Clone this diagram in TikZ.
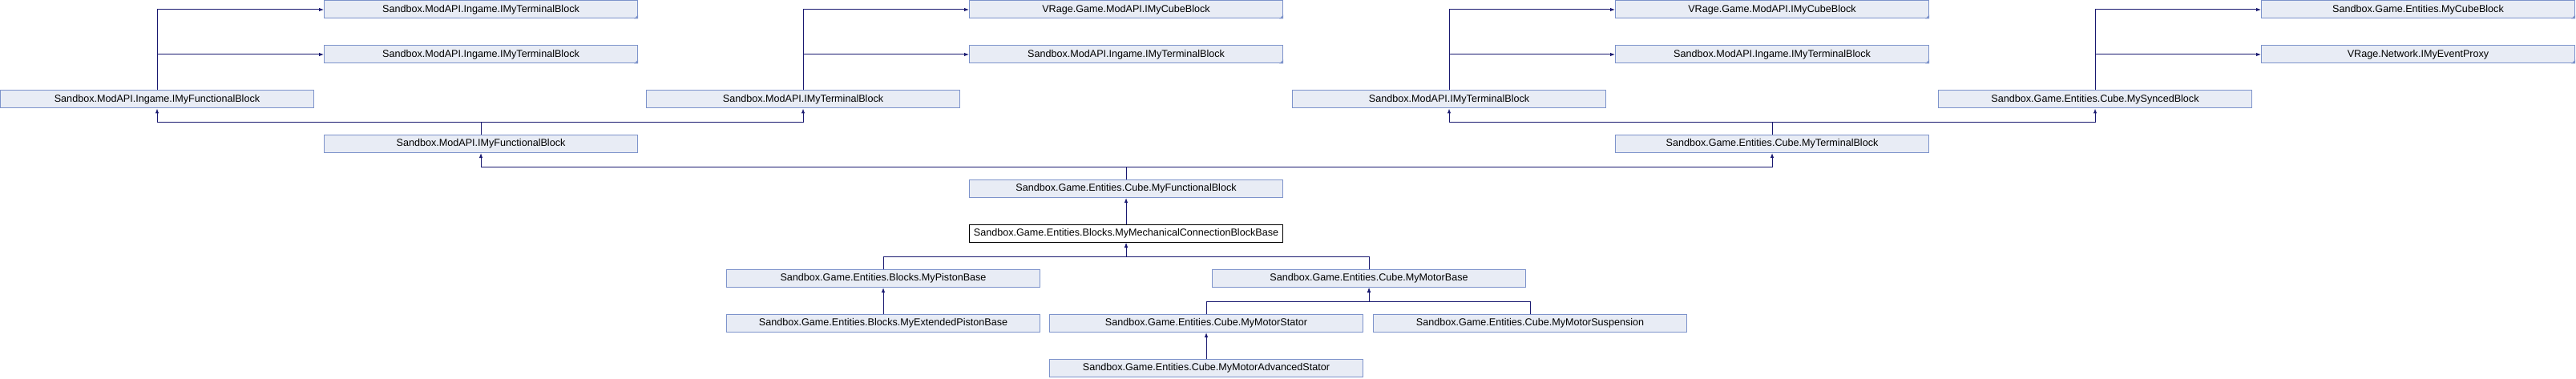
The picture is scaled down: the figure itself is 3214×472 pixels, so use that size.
\documentclass[tikz,border=0pt]{standalone}
\usepackage{fontspec}
\setmainfont{Liberation Sans}
\usetikzlibrary{arrows.meta}

\definecolor{boxfill}{HTML}{E8ECF5}
\definecolor{boxline}{HTML}{7D93CB}
\definecolor{edgecol}{HTML}{191970}

\tikzset{
  cls/.style={draw=boxline, fill=boxfill, line width=1pt, rectangle,
    minimum width=391pt, minimum height=22pt, inner sep=0pt,
    font=\fontsize{12.6}{15}\selectfont},
  mainclass/.style={cls, draw=black, fill=white},
  edge/.style={draw=edgecol, line width=1pt, -{Latex[length=6pt,width=4.5pt]}},
  cut/.style={fill=boxline}
}

\begin{document}
\begin{tikzpicture}[x=1pt, y=1pt]
            \useasboundingbox (0,0) rectangle (3214,472);

            % Top rows (truncated bases)
            \node[cls] (ingTerm1) at (600,460) {Sandbox.ModAPI.Ingame.IMyTerminalBlock};
            \node[cls] (ingTerm2) at (600,404) {Sandbox.ModAPI.Ingame.IMyTerminalBlock};
            \node[cls] (cubeIf1) at (1405,460) {VRage.Game.ModAPI.IMyCubeBlock};
            \node[cls] (ingTerm3) at (1405,404) {Sandbox.ModAPI.Ingame.IMyTerminalBlock};
            \node[cls] (cubeIf2) at (2211,460) {VRage.Game.ModAPI.IMyCubeBlock};
            \node[cls] (ingTerm4) at (2211,404) {Sandbox.ModAPI.Ingame.IMyTerminalBlock};
            \node[cls] (myCube) at (3017,460) {Sandbox.Game.Entities.MyCubeBlock};
            \node[cls] (eventProxy) at (3017,404) {VRage.Network.IMyEventProxy};

            % Interfaces
            \node[cls] (ingFunc) at (196,348) {Sandbox.ModAPI.Ingame.IMyFunctionalBlock};
            \node[cls] (modTerm1) at (1002,348) {Sandbox.ModAPI.IMyTerminalBlock};
            \node[cls] (modTerm2) at (1808,348) {Sandbox.ModAPI.IMyTerminalBlock};
            \node[cls] (synced) at (2614,348) {Sandbox.Game.Entities.Cube.MySyncedBlock};
            \node[cls] (modFunc) at (600,292.5) {Sandbox.ModAPI.IMyFunctionalBlock};
            \node[cls] (terminal) at (2211,292.5) {Sandbox.Game.Entities.Cube.MyTerminalBlock};

            % Main chain
            \node[cls] (functional) at (1405,236.5) {Sandbox.Game.Entities.Cube.MyFunctionalBlock};
            \node[mainclass] (mechBase) at (1405,180.5) {Sandbox.Game.Entities.Blocks.MyMechanicalConnectionBlockBase};
            \node[cls] (piston) at (1102,124.5) {Sandbox.Game.Entities.Blocks.MyPistonBase};
            \node[cls] (motor) at (1708,124.5) {Sandbox.Game.Entities.Cube.MyMotorBase};
            \node[cls] (extPiston) at (1102,68.5) {Sandbox.Game.Entities.Blocks.MyExtendedPistonBase};
            \node[cls] (stator) at (1505,68.5) {Sandbox.Game.Entities.Cube.MyMotorStator};
            \node[cls] (suspension) at (1909,68.5) {Sandbox.Game.Entities.Cube.MyMotorSuspension};
            \node[cls] (advStator) at (1505,12.5) {Sandbox.Game.Entities.Cube.MyMotorAdvancedStator};

            % Corner marks on truncated nodes
            \foreach \n in {ingTerm1,ingTerm2,cubeIf1,ingTerm3,cubeIf2,ingTerm4,myCube,eventProxy}
              \fill[cut] (\n.south east) -- ++(-5,0) -- ++(5,5) -- cycle;

            % Inheritance edges
            \draw[edge] (ingFunc.north) |- (ingTerm1.west);
            \draw[edge] (ingFunc.north) |- (ingTerm2.west);
            \draw[edge] (modTerm1.north) |- (cubeIf1.west);
            \draw[edge] (modTerm1.north) |- (ingTerm3.west);
            \draw[edge] (modTerm2.north) |- (cubeIf2.west);
            \draw[edge] (modTerm2.north) |- (ingTerm4.west);
            \draw[edge] (synced.north) |- (myCube.west);
            \draw[edge] (synced.north) |- (eventProxy.west);

            \draw[edge] (modFunc.north) -- ++(0,15) -| (ingFunc.south);
            \draw[edge] (modFunc.north) -- ++(0,15) -| (modTerm1.south);
            \draw[edge] (terminal.north) -- ++(0,15) -| (modTerm2.south);
            \draw[edge] (terminal.north) -- ++(0,15) -| (synced.south);

            \draw[edge] (functional.north) -- ++(0,16) -| (modFunc.south);
            \draw[edge] (functional.north) -- ++(0,16) -| (terminal.south);
            \draw[edge] (mechBase.north) -- (functional.south);

            \draw[edge] (piston.north) -- ++(0,16) -| (mechBase.south);
            \draw[edge] (motor.north) -- ++(0,16) -| (mechBase.south);
            \draw[edge] (extPiston.north) -- (piston.south);
            \draw[edge] (stator.north) -- ++(0,16) -| (motor.south);
            \draw[edge] (suspension.north) -- ++(0,16) -| (motor.south);
            \draw[edge] (advStator.north) -- (stator.south);

\end{tikzpicture}
\end{document}
